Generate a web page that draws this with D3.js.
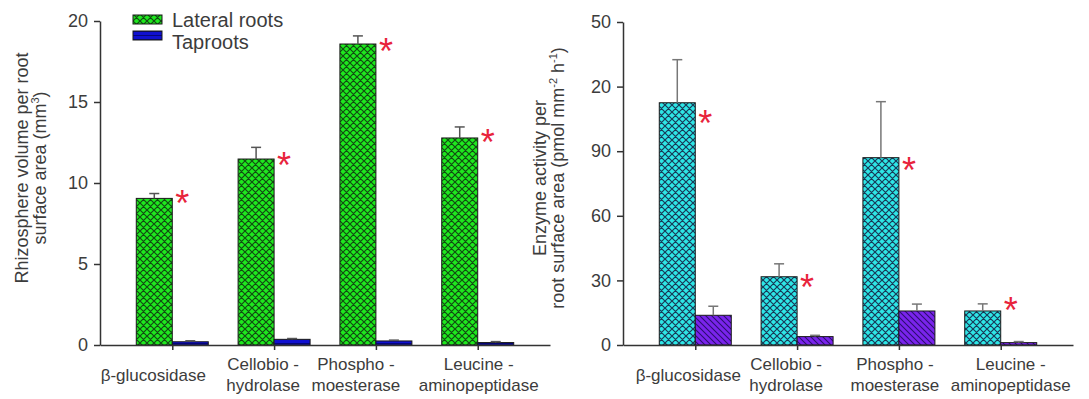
<!DOCTYPE html>
<html>
<head>
<meta charset="utf-8">
<script src="https://cdn.jsdelivr.net/npm/d3@7"></script>
<style>
  html, body { margin: 0; padding: 0; background: #fff; }
  svg { display: block; font-family: "Liberation Sans", Arial, sans-serif; }
</style>
</head>
<body>
<svg id="chart" width="1089" height="399"></svg>
<script>
// ---------------- data ----------------
const categories = ["β-glucosidase", "Cellobio -\nhydrolase", "Phospho -\nmoesterase", "Leucine -\naminopeptidase"];
const seriesNames = ["Lateral roots", "Taproots"];

// Left panel: rhizosphere volume per root surface area (mm3)
const volLateral = [9.05, 11.48, 18.58, 12.78];
const volLateralErr = [0.3, 0.72, 0.5, 0.68];
const volTaproot = [0.2, 0.35, 0.25, 0.15];
const volTaprootErr = [0.06, 0.05, 0.05, 0.06];
const volSignif = [9.2, 11.55, 18.6, 12.95];   // level of the "*" marks
const volTicks = [0, 5, 10, 15, 20];
const volTickLabels = ["0", "5", "10", "15", "20"];

// Right panel: enzyme activity per root surface area (pmol mm-2 h-1)
const enzLateral = [112.5, 31.7, 87.0, 15.8];
const enzLateralErr = [20, 6, 26, 3.3];
const enzTaproot = [13.8, 3.9, 15.8, 1.1];
const enzTaprootErr = [4.2, 0.6, 3.2, 0.5];
const enzSignif = [106.4, 30.2, 84.5, 19.5];
const enzTicks = [0, 30, 60, 90, 120, 150];
const enzTickLabels = ["0", "30", "60", "90", "20", "50"];

// ---------------- layout ----------------
const svg = d3.select("#chart");
const textColor = "#3c3c3c";
const axisColor = "#333";

const defs = svg.append("defs");
function crossPattern(id, fill, stroke) {
  const p = defs.append("pattern").attr("id", id).attr("patternUnits", "userSpaceOnUse")
    .attr("width", 7).attr("height", 7);
  p.append("rect").attr("width", 7).attr("height", 7).attr("fill", fill);
  p.append("path").attr("d", "M-1,-1 L8,8 M-1,6 L1,8 M6,-1 L8,1 M8,-1 L-1,8 M-1,1 L1,-1 M6,8 L8,6")
    .attr("stroke", stroke).attr("stroke-width", 1.2).attr("fill", "none");
}
crossPattern("pGreen", "#1ee81e", "#124a12");
crossPattern("pCyan", "#2ee6e6", "#183a58");
(function () {
  const p = defs.append("pattern").attr("id", "pPurple").attr("patternUnits", "userSpaceOnUse")
    .attr("width", 6).attr("height", 6);
  p.append("rect").attr("width", 6).attr("height", 6).attr("fill", "#7a24ec");
  p.append("path").attr("d", "M-1,-1 L7,7 M-1,5 L1,7 M5,-1 L7,1")
    .attr("stroke", "#2c0c70").attr("stroke-width", 1.1);
  const b = defs.append("pattern").attr("id", "pBlue").attr("patternUnits", "userSpaceOnUse")
    .attr("width", 4).attr("height", 4);
  b.append("rect").attr("width", 4).attr("height", 4).attr("fill", "#1010d0");
  b.append("path").attr("d", "M0,3.5 L4,3.5").attr("stroke", "#06067a").attr("stroke-width", 1);
})();

function panel(cfg) {
  const x = d3.scalePoint().domain(categories).range([cfg.x0, cfg.x1]).padding(0.71);
  const y = d3.scaleLinear().domain([cfg.ticks[0], cfg.ticks[cfg.ticks.length - 1]]).range([345, cfg.yTop]);
  const sub = d3.scaleBand().domain(seriesNames).range([-36, 36]);
  const g = svg.append("g");

  const rows = categories.map((c, i) => ({ c, i }));
  const series = [
    { name: seriesNames[0], vals: cfg.lat, errs: cfg.latErr, fill: cfg.latFill },
    { name: seriesNames[1], vals: cfg.tap, errs: cfg.tapErr, fill: cfg.tapFill }
  ];

  series.forEach(s => {
    g.selectAll(null).data(rows).enter().append("rect")
      .attr("x", d => x(d.c) + sub(s.name))
      .attr("width", sub.bandwidth())
      .attr("y", d => y(s.vals[d.i]))
      .attr("height", d => y(0) - y(s.vals[d.i]))
      .attr("fill", s.fill)
      .attr("stroke", "#1a1a1a").attr("stroke-width", 1);
    const cx = d => x(d.c) + sub(s.name) + sub.bandwidth() / 2;
    g.selectAll(null).data(rows).enter().append("line")
      .attr("x1", cx).attr("x2", cx)
      .attr("y1", d => y(s.vals[d.i]))
      .attr("y2", d => y(s.vals[d.i] + s.errs[d.i]))
      .attr("stroke", cfg.errColor).attr("stroke-width", 1.5);
    g.selectAll(null).data(rows).enter().append("line")
      .attr("x1", d => cx(d) - 5).attr("x2", d => cx(d) + 5)
      .attr("y1", d => y(s.vals[d.i] + s.errs[d.i]))
      .attr("y2", d => y(s.vals[d.i] + s.errs[d.i]))
      .attr("stroke", cfg.errColor).attr("stroke-width", 1.5);
  });

  // significance stars
  g.selectAll(null).data(rows).enter().append("text")
    .attr("x", d => x(d.c) + 10)
    .attr("y", d => y(cfg.sig[d.i]) + 20)
    .attr("font-size", 36).attr("fill", "#e8243c").attr("text-anchor", "middle")
    .text("*");

  // y axis
  const ya = g.append("g").attr("transform", `translate(${cfg.x0},0)`)
    .call(d3.axisLeft(y).tickValues(cfg.ticks).tickSize(6).tickSizeOuter(0).tickPadding(6)
      .tickFormat((d, i) => cfg.tickLabels[i]));
  ya.selectAll("path,line").attr("stroke", axisColor).attr("stroke-width", 1.5);
  ya.selectAll("text").attr("font-size", 18).attr("fill", textColor).attr("font-family", "Liberation Sans, Arial, sans-serif");

  // x axis
  const xa = g.append("g").attr("transform", "translate(0,345)")
    .call(d3.axisBottom(x).tickSize(5).tickSizeOuter(0).tickFormat(""));
  xa.selectAll("path,line").attr("stroke", axisColor).attr("stroke-width", 1.5);

  // category labels
  rows.forEach(d => {
    const lines = d.c.split("\n");
    const lx = x(d.c) + cfg.labelShift[d.i];
    const t = g.append("text").attr("text-anchor", "middle")
      .attr("font-size", 17).attr("fill", textColor).attr("x", lx);
    if (lines.length === 1) {
      t.append("tspan").attr("x", lx).attr("y", 381).text(lines[0]);
    } else {
      lines.forEach((ln, k) => t.append("tspan").attr("x", lx).attr("y", 370 + k * 21).text(ln));
    }
  });

  // y title
  const yt = g.append("text").attr("transform", `translate(${cfg.titleX},${cfg.titleY}) rotate(-90)`)
    .attr("text-anchor", "middle").attr("font-size", 18).attr("fill", textColor);
  cfg.title(yt);
  return { x, y };
}

// left panel
panel({
  x0: 100, x1: 550, yTop: 21, ticks: volTicks, tickLabels: volTickLabels,
  lat: volLateral, latErr: volLateralErr, tap: volTaproot, tapErr: volTaprootErr, sig: volSignif,
  latFill: "url(#pGreen)", tapFill: "url(#pBlue)", errColor: "#555",
  labelShift: [-19, -11, -20, 1],
  titleX: 28, titleY: 168,
  title: t => {
    t.append("tspan").attr("x", 0).attr("dy", 0).text("Rhizosphere volume per root");
    const s = t.append("tspan").attr("x", 0).attr("dy", 18);
    s.append("tspan").text("surface area (mm");
    s.append("tspan").attr("font-size", 11).attr("dy", -7).text("3");
    s.append("tspan").attr("dy", 7).text(")");
  }
});

// right panel
panel({
  x0: 623, x1: 1073, yTop: 22, ticks: enzTicks, tickLabels: enzTickLabels,
  lat: enzLateral, latErr: enzLateralErr, tap: enzTaproot, tapErr: enzTaprootErr, sig: enzSignif,
  latFill: "url(#pCyan)", tapFill: "url(#pPurple)", errColor: "#777",
  labelShift: [-7, -11, -4, 10],
  titleX: 546, titleY: 178,
  title: t => {
    t.append("tspan").attr("x", 0).attr("dy", 0).text("Enzyme activity per");
    const s = t.append("tspan").attr("x", 0).attr("dy", 18);
    s.append("tspan").text("root surface area (pmol mm");
    s.append("tspan").attr("font-size", 11).attr("dy", -7).text("-2");
    s.append("tspan").attr("dy", 7).text(" h");
    s.append("tspan").attr("font-size", 11).attr("dy", -7).text("-1");
    s.append("tspan").attr("dy", 7).text(")");
  }
});

// legend
const legend = svg.append("g");
const legendFills = ["url(#pGreen)", "url(#pBlue)"];
seriesNames.forEach((n, i) => {
  legend.append("rect").attr("x", 133).attr("y", 15 + i * 16).attr("width", 29).attr("height", 9)
    .attr("fill", legendFills[i]).attr("stroke", "#1a1a1a").attr("stroke-width", 1);
  legend.append("text").attr("x", 172).attr("y", 27 + i * 22).attr("font-size", 20)
    .attr("fill", textColor).text(n);
});
</script>
</body>
</html>
